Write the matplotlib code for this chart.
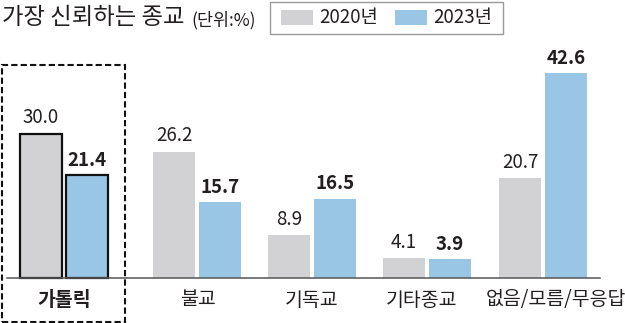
import matplotlib.pyplot as plt
from matplotlib.patches import Rectangle

plt.rcParams["font.family"] = ["Noto Sans CJK KR", "DejaVu Sans"]

categories = ["가톨릭", "불교", "기독교", "기타종교", "없음/모름/무응답"]
values_2020 = [30.0, 26.2, 8.9, 4.1, 20.7]
values_2023 = [21.4, 15.7, 16.5, 3.9, 42.6]
years = ["2020년", "2023년"]

GRAY = "#d2d2d4"
BLUE = "#9ac6e6"
W, H = 625, 323
SCALE = 4.81  # pixels per percentage point
BASE = 278    # baseline, pixels from top

centers = [64, 197, 312, 427, 543]
label_x = [64, 198, 312, 422, 556]
bar_w = 42
off = 23

fig = plt.figure(figsize=(W / 100, H / 100), dpi=100)
ax = fig.add_axes([0, 0, 1, 1])
ax.set_xlim(0, W)
ax.set_ylim(-(H - BASE) / SCALE, BASE / SCALE)
ax.axis("off")

for i, c in enumerate(centers):
    hl = i == 0
    ax.bar(c - off, values_2020[i], width=bar_w, color=GRAY,
           edgecolor="#111111" if hl else "none", linewidth=1.6 if hl else 0, zorder=2)
    ax.bar(c + off, values_2023[i], width=bar_w, color=BLUE,
           edgecolor="#111111" if hl else "none", linewidth=1.6 if hl else 0, zorder=2)
    ax.annotate(f"{values_2020[i]:.1f}", (c - off, values_2020[i]), xytext=(0, 4),
                textcoords="offset points", ha="center", va="bottom",
                fontsize=13.5, color="#231f20")
    ax.annotate(f"{values_2023[i]:.1f}", (c + off, values_2023[i]), xytext=(0, 4),
                textcoords="offset points", ha="center", va="bottom",
                fontsize=13.5, color="#231f20", fontweight="bold")
    ax.text(label_x[i], -(300 - BASE) / SCALE, categories[i], ha="center", va="center",
            fontsize=14, color="#231f20", fontweight="bold" if hl else "normal")

# baseline
ax.plot([7, 600], [0, 0], color="#555555", lw=1.1, zorder=3)

# dashed highlight box around the first group
fig.patches.append(Rectangle((2 / W, 1 / H), 123 / W, (H - 65 - 1) / H,
                             transform=fig.transFigure, fill=False,
                             edgecolor="#111111", lw=1.5, linestyle=(0, (3, 1.5))))

# title
fig.text(2 / W, 1 - 18 / H, "가장 신뢰하는 종교", fontsize=16.8, va="center",
         ha="left", color="#231f20")
fig.text(191 / W, 1 - 20 / H, "(단위:%)", fontsize=12.5, va="center",
         ha="left", color="#231f20")

# legend
fig.patches.append(Rectangle((270 / W, 1 - 34 / H), 233 / W, 32 / H,
                             transform=fig.transFigure, fill=False,
                             edgecolor="#999999", lw=1))
for x0, col, lab in [(281, GRAY, years[0]), (395, BLUE, years[1])]:
    fig.patches.append(Rectangle((x0 / W, 1 - 25 / H), 32 / W, 15 / H,
                                 transform=fig.transFigure, color=col, lw=0))
    fig.text((x0 + 38) / W, 1 - 18 / H, lab, fontsize=13.5, va="center",
             ha="left", color="#231f20")

fig.savefig("out.png", dpi=100)
